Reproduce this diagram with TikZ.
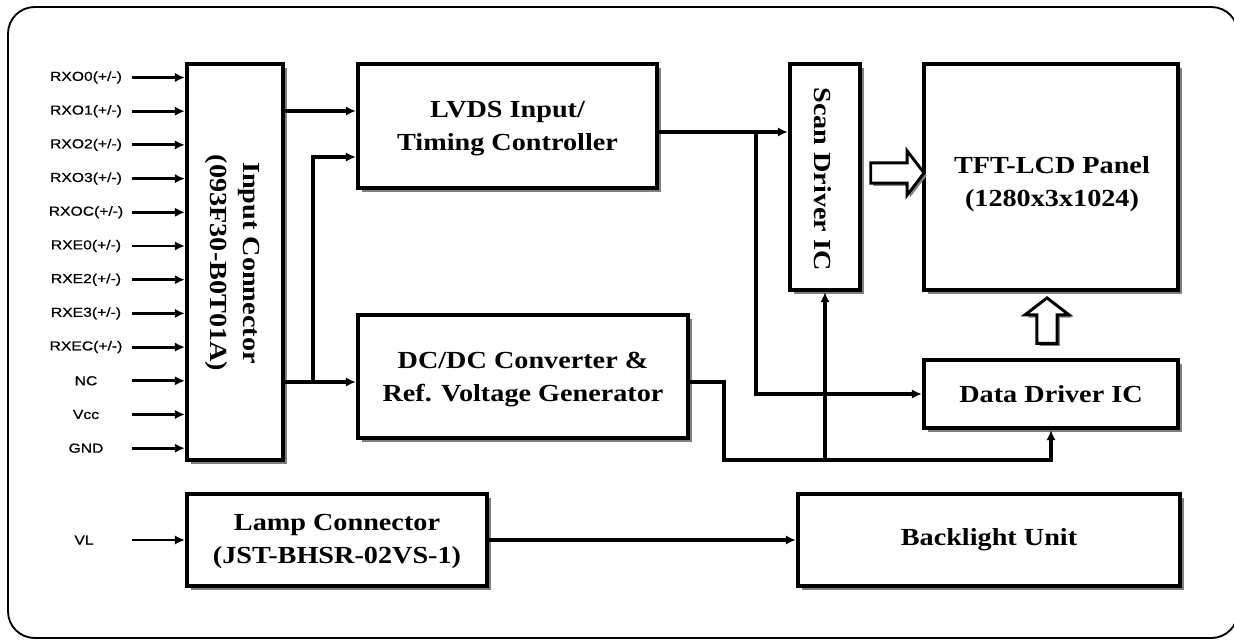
\documentclass[tikz,border=0pt]{standalone}
\usepackage{fontspec}
\setmainfont{Liberation Serif}[FakeStretch=1.15]
\newfontfamily\lblfont{Liberation Sans}[FakeStretch=1.2,FakeBold=0.6]
\usetikzlibrary{arrows.meta,shadows,shapes.arrows,fit}
\begin{document}
\begin{tikzpicture}[x=0.75pt,y=-0.75pt,
  box/.style={draw, line width=3.2pt, fill=white, inner sep=0pt,
    drop shadow={shadow xshift=3pt, shadow yshift=-3pt, fill=black!50, opacity=1}},
  boxtext/.style={font=\fontsize{18.4}{24.75}\selectfont\bfseries, align=center, inner sep=0pt},
  lbl/.style={font=\lblfont\fontsize{9.8}{11}\selectfont, inner sep=0pt},
  conn/.style={line width=2.6pt, -{Latex[length=7.5pt,width=7pt]}},
  inl/.style={line width=2.2pt, -{Latex[length=7.5pt,width=7pt]}},
  hollow/.style={single arrow, draw, line width=2.2pt, fill=white, inner sep=6.5pt,
    single arrow head extend=9pt, single arrow tip angle=105,
    drop shadow={shadow xshift=2pt, shadow yshift=-2pt, fill=black!50, opacity=1}},
  frame/.style={line width=1.4pt, rounded corners=20pt}
]
\useasboundingbox (0,0) rectangle (1234,639);
\draw[frame] (8,7) rectangle (1238,638);

% boxes
\node[box, fit={(187,64)(283,460)}] (ic) {};
\node[box, fit={(358,64)(657,188)}] (lvds) {};
\node[box, fit={(358,315)(688,438)}] (dcdc) {};
\node[box, fit={(790,64)(860,290)}] (scan) {};
\node[box, fit={(924,64)(1178,290)}] (tft) {};
\node[box, fit={(924,360)(1178,428)}] (ddic) {};
\node[box, fit={(187,494)(487,586)}] (lamp) {};
\node[box, fit={(798,494)(1180,586)}] (blu) {};

% box texts
\node[boxtext, rotate=-90] (ictext) at (233,263) {Input Connector\\(093F30-B0T01A)};
\node[boxtext] (lvdstext) at ([yshift=-2pt]lvds.center) {LVDS Input/\\Timing Controller};
\node[boxtext] (dcdctext) at ([yshift=-2pt]dcdc.center) {DC/DC Converter \&\\Ref. Voltage Generator};
\node[boxtext, rotate=-90] (scantext) at (823,179) {Scan Driver IC};
\node[boxtext] (tfttext) at (1052,184) {TFT-LCD Panel\\(1280x3x1024)};
\node[boxtext] (ddictext) at (ddic.center) {Data Driver IC};
\node[boxtext] (lamptext) at ([yshift=-1pt]lamp.center) {Lamp Connector\\(JST-BHSR-02VS-1)};
\node[boxtext] (blutext) at (blu.center) {Backlight Unit};

% input labels
\foreach \t [count=\i] in {RXO0(+/-),RXO1(+/-),RXO2(+/-),RXO3(+/-),RXOC(+/-),RXE0(+/-),RXE2(+/-),RXE3(+/-),RXEC(+/-),NC,Vcc,GND}{
  \node[lbl] (l\i) at (86,{77.5+33.7*(\i-1)}) {\t};
  \coordinate (s\i) at (132,{77.5+33.7*(\i-1)});
  \draw[inl] (s\i) -- (s\i -| ic.west);
}
\node[lbl] (vl) at (84,540) {VL};
\coordinate (svl) at (132,540);
\draw[inl] (svl) -- (svl -| lamp.west);

% rails
\coordinate (r111) at (0,111);
\coordinate (r157) at (0,157);
\coordinate (r382) at (0,382);
\coordinate (r132) at (0,132);
\coordinate (j1) at (313,382);
\coordinate (br1) at (756,132);
\coordinate (bus) at (724,460);

\draw[conn] (ic.east |- r111) -- (lvds.west |- r111);
\draw[conn] (ic.east |- r382) -- (dcdc.west |- r382);
\draw[conn] (j1) |- (lvds.west |- r157);
\draw[conn] (lvds.east |- r132) -- (scan.west |- r132);
\draw[conn] (br1) |- (ddic.west);
\draw[conn] (dcdc.east |- r382) -| (bus) -| (ddic.south);
\draw[conn] (scan.south |- bus) -- (scan.south);
\draw[conn] (lamp.east) -- (blu.west);

% hollow arrows
\node[hollow, minimum height=40pt] (ha1) at (893.5,173) {};
\node[hollow, shape border rotate=90, minimum height=34pt] (ha2) at (1047,324.5) {};
\end{tikzpicture}
\end{document}
